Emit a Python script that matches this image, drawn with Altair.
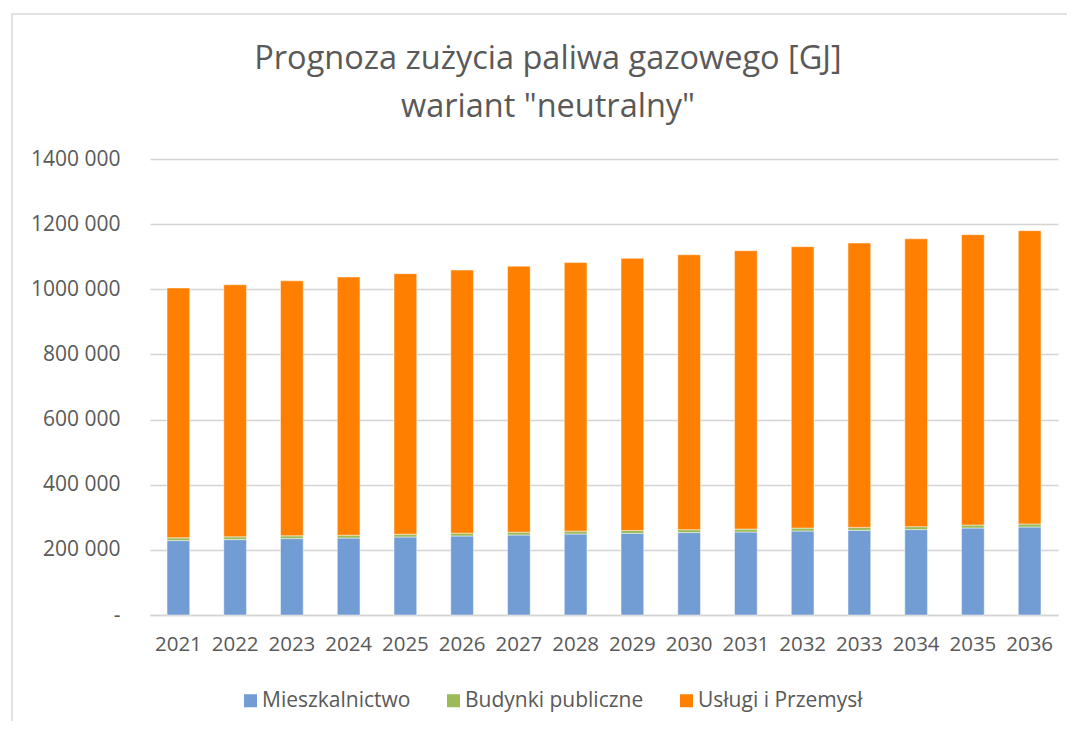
import altair as alt
import pandas as pd

years = [str(y) for y in range(2021, 2037)]
mieszkalnictwo = [228400, 231500, 234600, 236400, 239500, 242600, 245600, 248700,
                  250800, 253000, 254800, 257900, 260000, 262200, 267100, 270200]
budynki = [8400, 8500, 8500, 8600, 8600, 8700, 8700, 8800,
           8800, 8900, 8900, 9000, 9000, 9100, 9100, 9200]
uslugi = [767200, 774000, 782900, 792800, 799900, 807700, 816700, 824500,
          835400, 844100, 854800, 863900, 873000, 883700, 891400, 900600]

series = ["Mieszkalnictwo", "Budynki publiczne", "Usługi i Przemysł"]
colors = ["#729CD4", "#9BBB59", "#FF7F00"]
title_lines = ["Prognoza zużycia paliwa gazowego [GJ]", 'wariant "neutralny"']

rows = []
for i, y in enumerate(years):
    for k, (name, vals) in enumerate(zip(series, [mieszkalnictwo, budynki, uslugi])):
        rows.append({"rok": y, "seria": name, "wartosc": vals[i], "kolejnosc": k})
df = pd.DataFrame(rows)

FONT = "Open Sans"
GRAY = "#595959"

bars = alt.Chart(df).mark_bar(stroke="white", strokeWidth=0.8, strokeOpacity=0.6).encode(
    x=alt.X("rok:N", sort=years, title=None,
            scale=alt.Scale(paddingInner=0.6, paddingOuter=0.3),
            axis=alt.Axis(labelAngle=0, ticks=False, grid=False, domainColor="#d4d4d4",
                          domainWidth=1.3,
                          labelFontSize=20.5, labelColor=GRAY, labelFont=FONT, labelPadding=19)),
    y=alt.Y("wartosc:Q", stack="zero", title=None,
            scale=alt.Scale(domain=[0, 1400000], nice=False),
            axis=alt.Axis(values=list(range(0, 1400001, 200000)), ticks=False, domain=False,
                          gridColor="#d4d4d4", gridWidth=1.3,
                          labelFontSize=21, labelColor=GRAY, labelFont=FONT,
                          labelPadding=30,
                          labelExpr="datum.value == 0 ? '-   ' : (datum.value/1000) + ' 000'")),
    color=alt.Color("seria:N", scale=alt.Scale(domain=series, range=colors),
                    legend=alt.Legend(title=None, orient="none", direction="horizontal",
                                      legendX=90, legendY=531, symbolType="square",
                                      symbolSize=169, symbolStrokeWidth=0,
                                      labelFontSize=21, labelColor=GRAY, labelFont=FONT,
                                      labelLimit=400, columnPadding=32, labelOffset=1, padding=0)),
    order=alt.Order("kolejnosc:Q", sort="ascending"),
)

frame = alt.Chart(alt.Data(values=[{}])).mark_rect(fill=None, stroke="#d9d9d9", strokeWidth=1.5).encode(
    x=alt.value(-138), x2=alt.value(935), y=alt.value(-145), y2=alt.value(580)
)

title1 = alt.Chart(alt.Data(values=[{"t": title_lines[0]}])).mark_text(
    fontSize=32.5, font=FONT, color=GRAY, align="center", baseline="alphabetic"
).encode(text="t:N", x=alt.value(398), y=alt.value(-90))
title2 = alt.Chart(alt.Data(values=[{"t": title_lines[1]}])).mark_text(
    fontSize=32.5, font=FONT, color=GRAY, align="center", baseline="alphabetic"
).encode(text="t:N", x=alt.value(398), y=alt.value(-42))

chart = alt.layer(frame, bars, title1, title2).properties(
    width=908, height=456,
    background="white",
    autosize=alt.AutoSizeParams(type="none"),
    padding={"left": 142, "top": 151, "right": 9, "bottom": 106},
).configure_view(stroke="transparent", strokeWidth=0)

chart.save("out.html", embed_options={"renderer": "svg", "actions": False})
